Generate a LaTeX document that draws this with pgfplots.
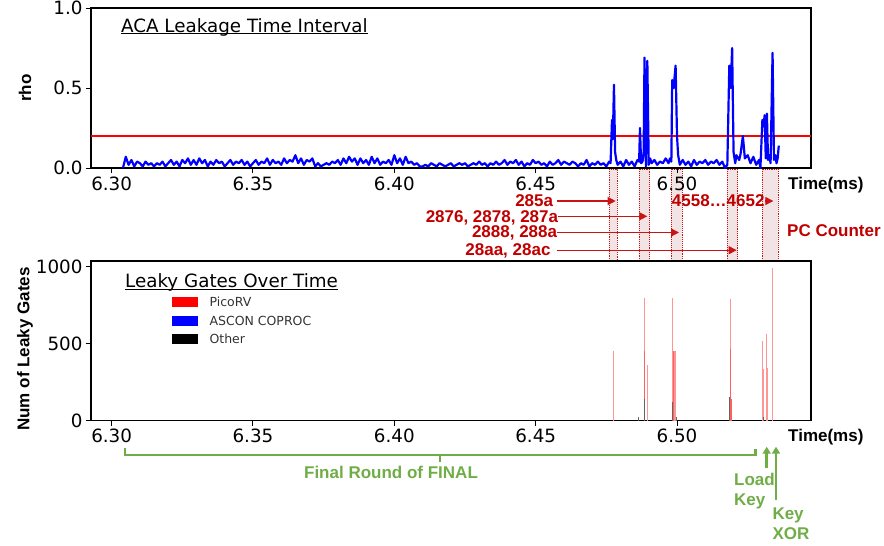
\documentclass[border=0pt]{standalone}
\usepackage{pgfplots}
\pgfplotsset{compat=1.18}
\usepackage{fontspec}
\setmainfont{Liberation Sans}
\newfontfamily\dejavu{DejaVu Sans}
\usetikzlibrary{arrows.meta}

\definecolor{trace}{RGB}{0,0,255}
\definecolor{thr}{RGB}{255,0,0}
\definecolor{pcred}{RGB}{192,0,0}
\definecolor{arr}{RGB}{200,20,20}
\definecolor{boxfill}{RGB}{242,228,228}
\definecolor{grn}{RGB}{112,173,71}
\definecolor{pico}{RGB}{255,150,150}
\definecolor{picodark}{RGB}{255,95,95}
\definecolor{othr}{RGB}{100,100,100}

\newcommand{\lab}{\fontsize{17}{20}\selectfont\bfseries}
\newcommand{\tk}{\dejavu\fontsize{18.3}{20}\selectfont}

\pgfplotsset{
  common/.style={
    scale only axis, width=720pt,
    xmin=6.2927, xmax=6.5474,
    axis line style={line width=1.2pt, black},
    tick align=outside, major tick length=5pt,
    every tick/.style={black, line width=1pt},
    xtick pos=bottom, ytick pos=left,
    xtick={6.30,6.35,6.40,6.45,6.50},
    /pgf/number format/assume math mode=true,
    xticklabel style={/pgf/number format/.cd, fixed, fixed zerofill, precision=2},
    tick label style={font=\tk},
  }
}

\begin{document}
\begin{tikzpicture}
\useasboundingbox (0pt,0pt) rectangle (884pt,-546pt);

% ---------------- PC counter boxes (behind everything) ----------------
\foreach \a/\b in {609.3/617.3, 639.3/649.7, 671.3/682, 727.3/737.7, 762/778.3}
  \filldraw[fill=boxfill, draw=arr, densely dotted, line width=0.9pt] (\a pt,-169pt) rectangle (\b pt,-260pt);

% ---------------- top axis ----------------
\begin{axis}[common, at={(91pt,-168pt)}, anchor=south west, height=160pt,
  ymin=0, ymax=1, ytick={0,0.5,1},
  yticklabel style={/pgf/number format/.cd, fixed, fixed zerofill, precision=1},
  ylabel={rho},
  every axis y label/.style={at={(rel axis cs:-0.0917,0.5)}, rotate=90, anchor=center, font=\lab},
]
\addplot[thr, line width=2pt] coordinates {(6.2927,0.2) (6.5474,0.2)};
\addplot[trace, line width=2.2pt, line join=round] coordinates {
(6.304,0.00)(6.305,0.07)(6.306,0.02)(6.307,0.05)(6.308,0.01)(6.309,0.04)(6.310,0.03)(6.311,0.01)(6.312,0.04)(6.313,0.02)
(6.314,0.03)(6.315,0.01)(6.316,0.03)(6.317,0.02)(6.318,0.04)(6.319,0.01)(6.320,0.03)(6.321,0.05)(6.322,0.02)(6.323,0.04)
(6.324,0.01)(6.325,0.05)(6.326,0.03)(6.327,0.06)(6.328,0.02)(6.329,0.05)(6.330,0.02)(6.331,0.06)(6.332,0.03)(6.333,0.05)
(6.334,0.01)(6.335,0.04)(6.336,0.02)(6.337,0.05)(6.338,0.03)(6.339,0.04)(6.340,0.01)(6.341,0.03)(6.342,0.05)(6.343,0.02)
(6.344,0.04)(6.345,0.03)(6.346,0.05)(6.347,0.02)(6.348,0.04)(6.349,0.01)(6.350,0.03)(6.351,0.05)(6.352,0.02)(6.353,0.04)
(6.354,0.03)(6.355,0.06)(6.356,0.02)(6.357,0.05)(6.358,0.03)(6.359,0.04)(6.360,0.02)(6.361,0.06)(6.362,0.03)(6.363,0.05)
(6.364,0.04)(6.365,0.08)(6.366,0.03)(6.367,0.06)(6.368,0.02)(6.369,0.05)(6.370,0.04)(6.371,0.06)(6.372,0.01)(6.373,0.03)
(6.374,0.01)(6.375,0.02)(6.376,0.03)(6.377,0.02)(6.378,0.04)(6.379,0.03)(6.380,0.05)(6.381,0.02)(6.382,0.06)(6.383,0.03)
(6.384,0.07)(6.385,0.04)(6.386,0.06)(6.387,0.02)(6.388,0.06)(6.389,0.03)(6.390,0.05)(6.391,0.02)(6.392,0.07)(6.393,0.03)
(6.394,0.06)(6.395,0.02)(6.396,0.04)(6.397,0.03)(6.398,0.05)(6.399,0.02)(6.400,0.08)(6.401,0.03)(6.402,0.06)(6.403,0.02)
(6.404,0.07)(6.405,0.03)(6.406,0.04)(6.407,0.02)(6.408,0.03)(6.409,0.01)(6.410,0.01)(6.411,0.02)(6.412,0.01)(6.413,0.03)
(6.414,0.02)(6.415,0.01)(6.416,0.03)(6.417,0.02)(6.418,0.01)(6.419,0.02)(6.420,0.03)(6.421,0.01)(6.422,0.02)(6.423,0.03)
(6.424,0.02)(6.425,0.03)(6.426,0.01)(6.427,0.02)(6.428,0.03)(6.429,0.02)(6.430,0.04)(6.431,0.02)(6.432,0.03)(6.433,0.01)
(6.434,0.03)(6.435,0.02)(6.436,0.04)(6.437,0.02)(6.438,0.03)(6.439,0.05)(6.440,0.02)(6.441,0.04)(6.442,0.03)(6.443,0.05)
(6.444,0.02)(6.445,0.04)(6.446,0.01)(6.447,0.03)(6.448,0.02)(6.449,0.05)(6.450,0.03)(6.451,0.04)(6.452,0.02)(6.453,0.03)
(6.454,0.01)(6.455,0.04)(6.456,0.02)(6.457,0.03)(6.458,0.05)(6.459,0.02)(6.460,0.04)(6.461,0.03)(6.462,0.02)(6.463,0.04)
(6.464,0.03)(6.465,0.01)(6.466,0.03)(6.467,0.02)(6.468,0.05)(6.469,0.01)(6.470,0.03)(6.471,0.02)(6.472,0.04)(6.473,0.02)
(6.474,0.03)(6.475,0.01)(6.476,0.04)(6.4765,0.03)(6.4770,0.30)(6.4773,0.18)(6.4777,0.52)(6.4781,0.10)(6.4785,0.05)
(6.479,0.02)(6.480,0.04)(6.481,0.01)(6.482,0.05)(6.483,0.02)(6.484,0.04)(6.485,0.01)(6.486,0.05)
(6.4866,0.04)(6.4869,0.25)(6.4873,0.03)(6.4878,0.04)(6.4882,0.10)(6.4885,0.69)(6.4890,0.01)(6.4895,0.67)(6.4900,0.02)
(6.4905,0.06)(6.491,0.03)(6.492,0.05)(6.493,0.02)(6.494,0.04)(6.495,0.03)(6.496,0.06)(6.497,0.03)(6.4975,0.06)
(6.4980,0.04)(6.4983,0.55)(6.4988,0.50)(6.4995,0.64)(6.5000,0.20)(6.5004,0.08)(6.501,0.02)
(6.502,0.05)(6.503,0.02)(6.504,0.04)(6.505,0.01)(6.506,0.05)(6.507,0.02)(6.508,0.04)(6.509,0.03)(6.510,0.05)(6.511,0.02)
(6.512,0.04)(6.513,0.03)(6.514,0.05)(6.515,0.02)(6.516,0.04)(6.517,0.00)(6.5178,0.02)(6.5185,0.64)(6.5190,0.50)(6.5195,0.75)
(6.5200,0.10)(6.5206,0.03)(6.521,0.08)(6.522,0.05)(6.5225,0.09)(6.5233,0.20)(6.524,0.06)(6.525,0.08)(6.526,0.03)(6.527,0.07)
(6.528,0.02)(6.529,0.05)(6.5295,0.00)(6.5302,0.30)(6.5306,0.26)(6.5310,0.33)(6.5314,0.06)(6.5318,0.34)(6.5322,0.05)
(6.5327,0.08)(6.5331,0.03)(6.5338,0.72)(6.5343,0.05)(6.5348,0.08)(6.5352,0.03)(6.5356,0.06)(6.5360,0.14)
};
\end{axis}

% ---------------- bottom axis ----------------
\begin{axis}[common, at={(91pt,-420.5pt)}, anchor=south west, height=159.5pt,
  ymin=0, ymax=1039, ytick={0,500,1000},
  yticklabel style={/pgf/number format/1000 sep={}},
  ylabel={Num of Leaky Gates},
  every axis y label/.style={at={(rel axis cs:-0.0917,0.448)}, rotate=90, anchor=center, font=\lab},
  legend image code/.code={\fill[#1] (0pt,-4.5pt) rectangle (25.6pt,4.5pt);},
  legend style={at={(rel axis cs:0.112,0.775)}, anchor=north west, draw=none, fill=none,
    font=\dejavu\fontsize{12.5}{14}\selectfont, text=black!80, inner sep=0pt, row sep=9pt,
    nodes={inner sep=0pt, text height=9.5pt, text depth=0pt},
    /tikz/every odd column/.append style={column sep=11.7pt}},
  legend cell align=left,
]
\addlegendimage{red}\addlegendentry{PicoRV}
\addlegendimage{blue}\addlegendentry{ASCON COPROC}
\addlegendimage{black}\addlegendentry{Other}
\addplot[ycomb, pico, line width=1.1pt, forget plot] coordinates {
(6.4775,455)(6.4884,800)(6.4895,362)(6.4985,796)(6.4990,455)(6.4993,455)(6.4996,455)
(6.5188,790)(6.5302,518)(6.5305,335)(6.5316,563)(6.5319,345)(6.5321,340)(6.5338,991)};
\addplot[ycomb, picodark, line width=1pt, forget plot] coordinates {
(6.4886,455)(6.4987,455)(6.5190,466)(6.5192,140)};
\addplot[ycomb, othr, line width=1pt, forget plot] coordinates {
(6.4862,25)(6.4884,140)(6.4985,120)(6.4998,25)(6.5186,150)(6.5306,25)};
\end{axis}

% ---------------- titles ----------------
\node[anchor=base west, inner sep=0pt, font=\tk] (t1) at (121pt,-32.3pt) {ACA Leakage Time Interval};
\draw[line width=1.2pt] ([yshift=-1.2pt]t1.base west) -- ([yshift=-1.2pt]t1.base east);
\node[anchor=base west, inner sep=0pt, font=\tk] (t2) at (125pt,-287.7pt) {Leaky Gates Over Time};
\draw[line width=1.2pt] ([yshift=-1.6pt]t2.base west) -- ([yshift=-1.6pt]t2.base east);

\node[anchor=base west, inner sep=0pt, font=\lab] at (788pt,-189pt) {Time(ms)};
\node[anchor=base west, inner sep=0pt, font=\lab] at (788pt,-441pt) {Time(ms)};

% ---------------- PC counter labels ----------------
\begin{scope}[font=\lab, text=pcred]
\node[anchor=base east, inner sep=0pt] at (553.3pt,-206.5pt) {285a};
\node[anchor=base east, inner sep=0pt] at (558.3pt,-222pt) {2876, 2878, 287a};
\node[anchor=base east, inner sep=0pt] at (557.3pt,-237.8pt) {2888, 288a};
\node[anchor=base east, inner sep=0pt] at (550.7pt,-255.3pt) {28aa, 28ac};
\node[anchor=base west, inner sep=0pt] at (671.7pt,-206.5pt) {4558…4652};
\node[anchor=base west, inner sep=0pt] at (787pt,-236pt) {PC Counter};
\end{scope}
\begin{scope}[arr, line width=1.2pt, -{Triangle[length=8pt,width=8pt]}]
\draw (556.7pt,-201pt) -- (615.7pt,-201pt);
\draw (558.3pt,-216.3pt) -- (647.3pt,-216.3pt);
\draw (556.7pt,-232.5pt) -- (679pt,-232.5pt);
\draw (556.7pt,-250.2pt) -- (736.7pt,-250.2pt);
\draw (765pt,-201pt) -- (773.3pt,-201pt);
\end{scope}

% ---------------- green annotation ----------------
\draw[grn, line width=2.8pt] (125pt,-448.3pt) -- (125pt,-455pt) -- (755.7pt,-455pt) -- (755.7pt,-449pt);
\draw[grn, line width=2.8pt] (440pt,-455pt) -- (440pt,-461.7pt);
\node[text=grn, font=\lab, inner sep=0pt] at (391pt,-472.3pt) {Final Round of FINAL};
\draw[grn, line width=2.5pt, -{Triangle[length=7pt,width=8pt]}] (766.7pt,-468pt) -- (766.7pt,-446.7pt);
\draw[grn, line width=2.5pt, -{Triangle[length=7pt,width=8pt]}] (776pt,-500pt) -- (776pt,-446.7pt);
\begin{scope}[font=\lab, text=grn]
\node[anchor=base west, inner sep=0pt] at (734pt,-485pt) {Load};
\node[anchor=base west, inner sep=0pt] at (734pt,-505.5pt) {Key};
\node[anchor=base west, inner sep=0pt] at (772.3pt,-519.5pt) {Key};
\node[anchor=base west, inner sep=0pt] at (772.3pt,-539.5pt) {XOR};
\end{scope}
\end{tikzpicture}
\end{document}
